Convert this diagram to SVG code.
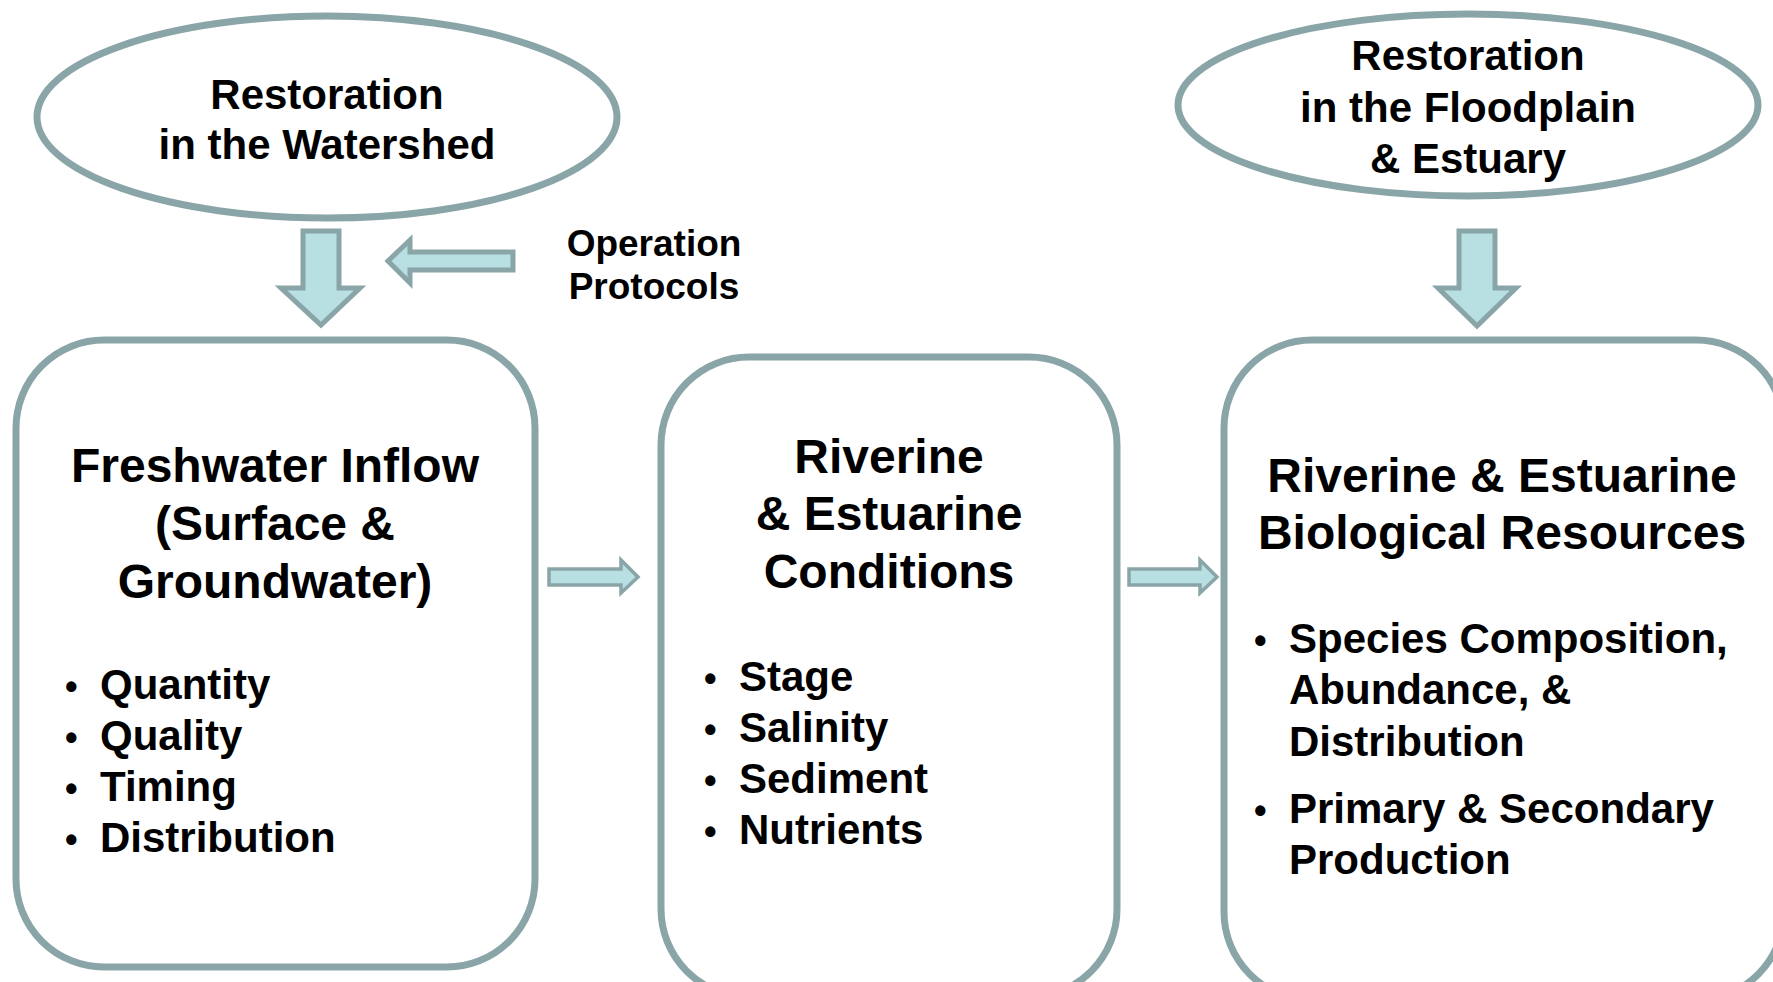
<svg xmlns="http://www.w3.org/2000/svg" width="1773" height="982" viewBox="0 0 1773 982">
  <style>
    .node { fill: #ffffff; stroke: #8aa5a8; stroke-width: 7; }
    .arrow { fill: #b8dfe2; stroke: #8aa5a8; stroke-width: 5; stroke-linejoin: miter; }
    .arrow-thin { fill: #b8dfe2; stroke: #8aa5a8; stroke-width: 3.5; }
    text { font-family: "Liberation Sans", Arial, sans-serif; font-weight: bold; fill: #000000; }
    .title { font-size: 48px; text-anchor: middle; }
    .oval { font-size: 42px; text-anchor: middle; }
    .item { font-size: 42px; }
    .bullet { font-size: 36px; }
    .note { font-size: 37px; text-anchor: middle; }
  </style>
  <rect width="1773" height="982" fill="#ffffff"/>

  <!-- connectors -->
  <g id="connectors">
    <!-- watershed -> freshwater inflow -->
    <path class="arrow" d="M303,231 H339 V288 H360 L321,325 L281,288 H303 Z"/>
    <!-- operation protocols -> inflow arrow -->
    <path class="arrow" d="M513,252 H410 V240 L388,261 L410,283 V270 H513 Z"/>
    <!-- floodplain -> biological resources -->
    <path class="arrow" d="M1459,231 H1495 V288 H1516 L1477,326 L1438,288 H1459 Z"/>
    <!-- inflow -> conditions -->
    <path class="arrow-thin" d="M549,569 H621 V560 L638,577 L621,593 V585 H549 Z"/>
    <!-- conditions -> biological resources -->
    <path class="arrow-thin" d="M1129,569 H1200 V560 L1217,577 L1200,593 V585 H1129 Z"/>
  </g>

  <g id="watershed">
    <ellipse class="node" cx="327" cy="117" rx="290" ry="101"/>
    <text class="oval" x="327" y="109">Restoration</text>
    <text class="oval" x="327" y="159">in the Watershed</text>
  </g>

  <g id="floodplain">
    <ellipse class="node" cx="1468" cy="105" rx="290" ry="91"/>
    <text class="oval" x="1468" y="70">Restoration</text>
    <text class="oval" x="1468" y="122">in the Floodplain</text>
    <text class="oval" x="1468" y="173">&amp; Estuary</text>
  </g>

  <g id="operation-protocols">
    <text class="note" x="654" y="256">Operation</text>
    <text class="note" x="654" y="299">Protocols</text>
  </g>

  <g id="freshwater-inflow">
    <rect class="node" x="16" y="340" width="519" height="627" rx="88" ry="88"/>
    <text class="title" x="275" y="482">Freshwater Inflow</text>
    <text class="title" x="275" y="540">(Surface &amp;</text>
    <text class="title" x="275" y="598">Groundwater)</text>
    <text class="bullet" x="65" y="699">•</text>
    <text class="item" x="100" y="699">Quantity</text>
    <text class="bullet" x="65" y="750">•</text>
    <text class="item" x="100" y="750">Quality</text>
    <text class="bullet" x="65" y="801">•</text>
    <text class="item" x="100" y="801">Timing</text>
    <text class="bullet" x="65" y="852">•</text>
    <text class="item" x="100" y="852">Distribution</text>
  </g>

  <g id="estuarine-conditions">
    <rect class="node" x="661" y="357" width="456" height="640" rx="88" ry="88"/>
    <text class="title" x="889" y="473">Riverine</text>
    <text class="title" x="889" y="530">&amp; Estuarine</text>
    <text class="title" x="889" y="588">Conditions</text>
    <text class="bullet" x="704" y="691">•</text>
    <text class="item" x="739" y="691">Stage</text>
    <text class="bullet" x="704" y="742">•</text>
    <text class="item" x="739" y="742">Salinity</text>
    <text class="bullet" x="704" y="793">•</text>
    <text class="item" x="739" y="793">Sediment</text>
    <text class="bullet" x="704" y="844">•</text>
    <text class="item" x="739" y="844">Nutrients</text>
  </g>

  <g id="biological-resources">
    <rect class="node" x="1224" y="340" width="560" height="660" rx="88" ry="88"/>
    <text class="title" x="1502" y="492">Riverine &amp; Estuarine</text>
    <text class="title" x="1502" y="549">Biological Resources</text>
    <text class="bullet" x="1254" y="653">•</text>
    <text class="item" x="1289" y="653">Species Composition,</text>
    <text class="item" x="1289" y="704">Abundance, &amp;</text>
    <text class="item" x="1289" y="756">Distribution</text>
    <text class="bullet" x="1254" y="823">•</text>
    <text class="item" x="1289" y="823">Primary &amp; Secondary</text>
    <text class="item" x="1289" y="874">Production</text>
  </g>
</svg>
